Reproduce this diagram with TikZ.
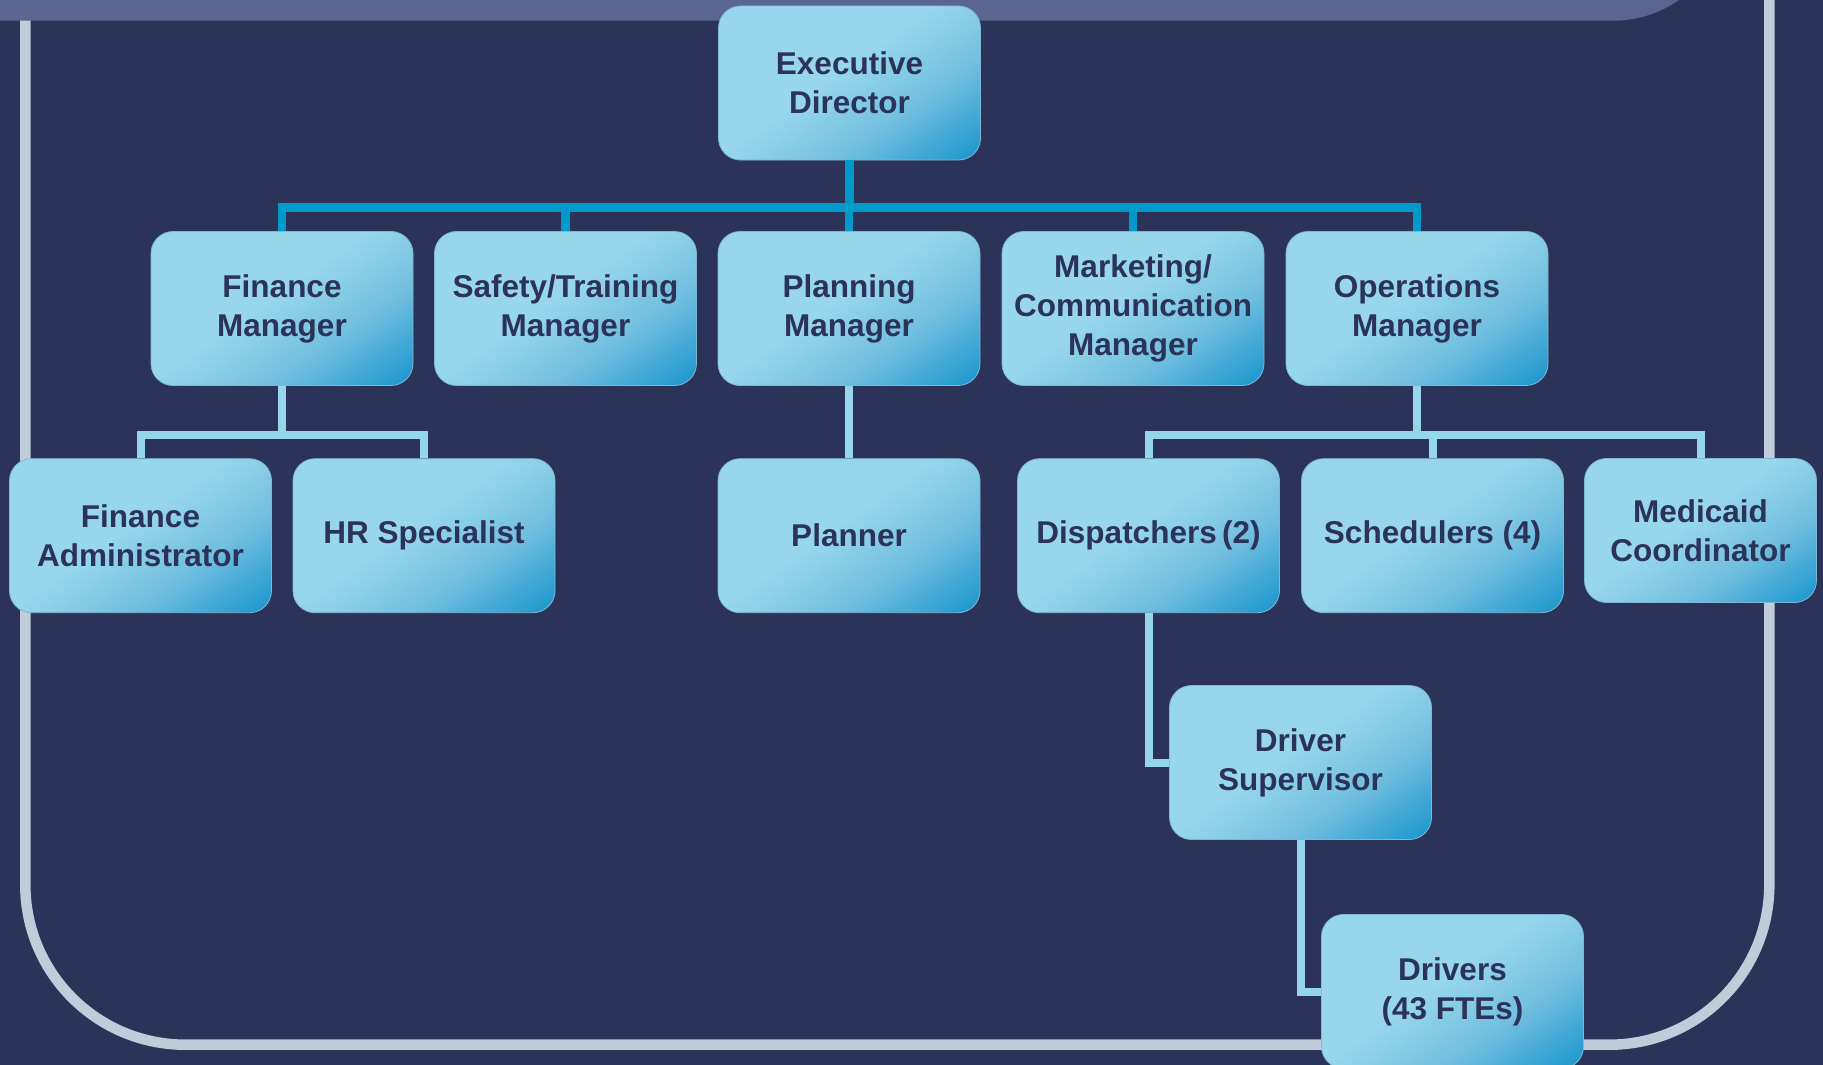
\documentclass[tikz,border=0pt]{standalone}
\usepackage{fontspec}
\setmainfont{Liberation Sans}
\usetikzlibrary{positioning}
\definecolor{navybg}{HTML}{2C3358}
\definecolor{barslate}{HTML}{5A6690}
\definecolor{framegrey}{HTML}{BFCCDA}
\definecolor{hubblue}{HTML}{0099CC}
\definecolor{twigblue}{HTML}{96D6EA}
\definecolor{boxlite}{HTML}{98D7EB}
\definecolor{boxmid}{HTML}{72BFE0}
\definecolor{boxdeep}{HTML}{1A96CD}
\definecolor{boxedge}{HTML}{7FB6D6}
\definecolor{ink}{HTML}{2B3358}
\pgfdeclarehorizontalshading{boxfade}{100bp}{
    color(0bp)=(boxlite); color(46bp)=(boxlite); color(64bp)=(boxmid);
    color(84bp)=(boxdeep); color(100bp)=(boxdeep)}
\tikzstyle{role_box} = [
    rounded corners=22pt,
    shading=boxfade,
    shading angle=-55,
    draw=boxedge,
    line width=0.8pt,
    text=ink,
    font=\bfseries\fontsize{31.5}{39}\selectfont,
    align=center,
    inner sep=0pt,
    minimum width=262pt,
    minimum height=154pt
]
\tikzstyle{top_link} = [
    draw=hubblue,
    line width=8.3pt
]
\tikzstyle{sub_link} = [
    draw=twigblue,
    line width=8pt
]
\tikzstyle{frame_line} = [
    draw=framegrey,
    line width=10.5pt,
    rounded corners=160pt
]
\begin{document}
\begin{tikzpicture}[x=1pt, y=-1pt]
\useasboundingbox (0,0) rectangle (1823,1065);
\clip (0,0) rectangle (1823,1065);
\fill[navybg] (0,0) rectangle (1823,1065);
\draw[frame_line] (25.3,-20) -- (25.3,1044.7) -- (1769.3,1044.7) -- (1769.3,-20);
\fill[barslate, rounded corners=115pt] (-200,-400) rectangle (1728,20.7);

% people
\node[role_box] (exec) at (849.5,83) {Executive\\Director};
\node[role_box] (fin) at (282,308.5) {Finance\\Manager};
\node[role_box] (safe) at (565.5,308.5) {Safety/Training\\Manager};
\node[role_box] (plan) at (849,308.5) {Planning\\Manager};
\node[role_box] (mark) at (1133,308.5) {Marketing/\\Communication\\Manager};
\node[role_box] (ops) at (1417,308.5) {Operations\\Manager};
\node[role_box] (finadm) at (140.5,535.7) {Finance\\Administrator};
\node[role_box] (hr) at (424,535.7) {HR Specialist};
\node[role_box] (planner) at (849,535.7) {Planner};
\node[role_box] (disp) at (1148.5,535.7) {Dispatchers\,(2)};
\node[role_box] (sched) at (1432.5,535.7) {Schedulers (4)};
\node[role_box, minimum width=232pt, minimum height=144pt] (medic) at (1700.5,530.5) {Medicaid\\Coordinator};
\node[role_box] (sup) at (1300.5,762.5) {Driver\\Supervisor};
\node[role_box] (drv) at (1452.5,991.5) {Drivers\\(43 FTEs)};

% lines
\coordinate (topbus) at (849.5,207.5);
\draw[top_link] (exec.south) -- (topbus);
\foreach \kid in {fin, safe, plan, mark, ops}
    \draw[top_link] (\kid.north) |- (topbus);
\coordinate (finbus) at (282,435);
\draw[sub_link] (fin.south) -- (finbus);
\foreach \kid in {finadm, hr}
    \draw[sub_link] (\kid.north) |- (finbus);
\draw[sub_link] (plan.south) -- (planner.north);
\coordinate (opsbus) at (1417,435);
\draw[sub_link] (ops.south) -- (opsbus);
\foreach \kid in {disp, sched, medic}
    \draw[sub_link] (\kid.north) |- (opsbus);
\draw[sub_link] (disp.south) |- (sup.west);
\draw[sub_link] (sup.south) |- (drv.west);
\end{tikzpicture}
\end{document}
